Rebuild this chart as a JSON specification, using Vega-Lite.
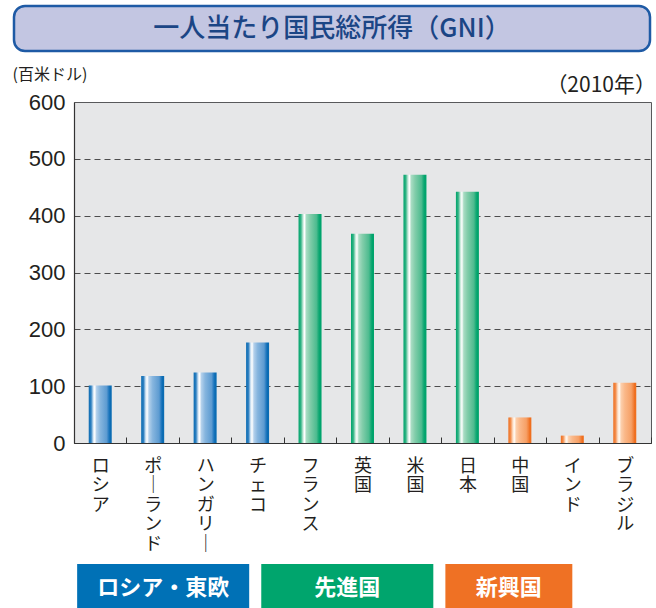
{
  "$schema": "https://vega.github.io/schema/vega-lite/v6.json",
  "padding": {"left": 11, "top": 4, "right": 0, "bottom": 0},
  "background": "white",
  "datasets": {
    "heading": [{"text": "一人当たり国民総所得（GNI）"}],
    "countries": [
      {"country": "ロシア", "gni": 101, "group": "ロシア・東欧"},
      {"country": "ポーランド", "gni": 118, "group": "ロシア・東欧"},
      {"country": "ハンガリー", "gni": 124, "group": "ロシア・東欧"},
      {"country": "チェコ", "gni": 177, "group": "ロシア・東欧"},
      {"country": "フランス", "gni": 403, "group": "先進国"},
      {"country": "英国", "gni": 368, "group": "先進国"},
      {"country": "米国", "gni": 472, "group": "先進国"},
      {"country": "日本", "gni": 442, "group": "先進国"},
      {"country": "中国", "gni": 45, "group": "新興国"},
      {"country": "インド", "gni": 13, "group": "新興国"},
      {"country": "ブラジル", "gni": 106, "group": "新興国"}
    ],
    "groups": [
      {"group": "ロシア・東欧", "first": "ロシア", "last": "チェコ"},
      {"group": "先進国", "first": "フランス", "last": "日本"},
      {"group": "新興国", "first": "中国", "last": "ブラジル"}
    ]
  },
  "spacing": 12,
  "vconcat": [
    {
      "width": 636,
      "height": 45,
      "view": {"fill": "#c3c6e2", "stroke": "#1e5aa5", "strokeWidth": 2.5, "cornerRadius": 11},
      "data": {"name": "heading"},
      "mark": {"type": "text", "font": "Noto Sans CJK JP", "fontSize": 26, "fontWeight": 500, "color": "#1b4585", "baseline": "middle", "align": "center"},
      "encoding": {"text": {"field": "text"}}
    },
    {
      "spacing": -4,
      "hconcat": [
        {
          "width": 1,
          "height": 1,
          "view": {"fill": "white", "stroke": null},
          "data": {"name": "heading"},
          "mark": {"type": "text", "opacity": 0},
          "encoding": {"text": {"value": ""}}
        },
        {
          "spacing": 10,
          "vconcat": [
            {
              "width": 577,
              "height": 341,
              "data": {"name": "countries"},
              "view": {"fill": "#e6e7e8", "stroke": "#58595b", "strokeWidth": 1},
              "title": {"text": "（2010年）", "anchor": "end", "frame": "group", "font": "Noto Sans CJK JP", "fontSize": 21, "fontWeight": "normal", "color": "#231f20", "offset": -30, "dx": 5},
              "encoding": {
                "x": {
                  "field": "country", "type": "nominal", "sort": null,
                  "scale": {"domain": ["ロシア", "ポーランド", "ハンガリー", "チェコ", "フランス", "英国", "米国", "日本", "中国", "インド", "ブラジル"], "paddingInner": 0, "paddingOuter": 0},
                  "axis": {
                    "title": null, "tickBand": "extent", "tickSize": -6, "tickColor": "#333333", "tickWidth": 1,
                    "domainColor": "#333333", "domainWidth": 1.2, "labelAngle": 0, "labelAlign": "center", "labelBaseline": "top",
                    "labelPadding": 20, "labelFont": "Noto Sans CJK JP", "labelFontSize": 18, "labelLineHeight": 19.5,
                    "labelColor": "#231f20", "labelExpr": "split(replace(datum.label, 'ー', '｜'), '')", "grid": false
                  }
                },
                "y": {
                  "field": "gni", "type": "quantitative",
                  "scale": {"domain": [0, 600], "nice": false},
                  "axis": {
                    "title": "(百米ドル)", "titleAngle": 0, "titleAlign": "left", "titleBaseline": "alphabetic",
                    "titleX": -62, "titleY": -23, "titleFont": "Noto Sans CJK JP", "titleFontSize": 16, "titleFontWeight": "normal", "titleColor": "#231f20",
                    "values": [0, 100, 200, 300, 400, 500, 600], "ticks": false, "labelPadding": 9,
                    "labelFont": "Liberation Sans", "labelFontSize": 22, "labelColor": "#231f20", "labelFlush": false,
                    "grid": true, "gridDash": [6, 4], "gridColor": "#4d4d4d", "gridWidth": 1,
                    "gridOpacity": {"condition": {"test": "datum.value === 0 || datum.value === 600", "value": 0}, "value": 1},
                    "domainColor": "#333333", "domainWidth": 1.2
                  }
                }
              },
              "layer": [
                {
                  "transform": [{"filter": "datum.group === 'ロシア・東欧'"}],
                  "mark": {"type": "bar", "size": 23, "fill": {"gradient": "linear", "x1": 0, "y1": 0, "x2": 1, "y2": 0, "stops": [
                    {"offset": 0, "color": "#0b6cb3"}, {"offset": 0.1, "color": "#2c7fc0"}, {"offset": 0.2, "color": "#d6e6f4"},
                    {"offset": 0.26, "color": "#ffffff"}, {"offset": 0.34, "color": "#b3d0eb"}, {"offset": 0.5, "color": "#86b5de"},
                    {"offset": 0.78, "color": "#5d9bd1"}, {"offset": 0.88, "color": "#1f77be"}, {"offset": 0.93, "color": "#0b6cb3"}, {"offset": 1, "color": "#0b6cb3"}]}}
                },
                {
                  "transform": [{"filter": "datum.group === '先進国'"}],
                  "mark": {"type": "bar", "size": 23, "fill": {"gradient": "linear", "x1": 0, "y1": 0, "x2": 1, "y2": 0, "stops": [
                    {"offset": 0, "color": "#00a46c"}, {"offset": 0.1, "color": "#2fb383"}, {"offset": 0.2, "color": "#cdebdd"},
                    {"offset": 0.26, "color": "#ffffff"}, {"offset": 0.34, "color": "#a8dcc3"}, {"offset": 0.5, "color": "#82cdaa"},
                    {"offset": 0.78, "color": "#4dbb8f"}, {"offset": 0.88, "color": "#13a974"}, {"offset": 0.93, "color": "#00a46c"}, {"offset": 1, "color": "#00a46c"}]}}
                },
                {
                  "transform": [{"filter": "datum.group === '新興国'"}],
                  "mark": {"type": "bar", "size": 23, "fill": {"gradient": "linear", "x1": 0, "y1": 0, "x2": 1, "y2": 0, "stops": [
                    {"offset": 0, "color": "#ef6f1f"}, {"offset": 0.1, "color": "#f38e4d"}, {"offset": 0.2, "color": "#fde2cc"},
                    {"offset": 0.26, "color": "#fffaf3"}, {"offset": 0.34, "color": "#fccfac"}, {"offset": 0.5, "color": "#fab889"},
                    {"offset": 0.78, "color": "#f6a066"}, {"offset": 0.88, "color": "#f2813a"}, {"offset": 0.93, "color": "#ef6f1f"}, {"offset": 1, "color": "#ef6f1f"}]}}
                }
              ]
            },
            {
              "width": 577,
              "height": 44,
              "data": {"name": "groups"},
              "view": {"stroke": null, "fill": null},
              "layer": [
                {
                  "transform": [{"filter": "datum.group === 'ロシア・東欧'"}],
                  "mark": {"type": "rect", "fill": "#0071b6"},
                  "encoding": {
                    "x": {"field": "first", "type": "nominal", "bandPosition": 0.06, "axis": null, "scale": {"domain": ["ロシア", "ポーランド", "ハンガリー", "チェコ", "フランス", "英国", "米国", "日本", "中国", "インド", "ブラジル"], "paddingInner": 0, "paddingOuter": 0}},
                    "x2": {"field": "last", "bandPosition": 0.34}
                  }
                },
                {
                  "transform": [{"filter": "datum.group === '先進国'"}],
                  "mark": {"type": "rect", "fill": "#00a56d"},
                  "encoding": {
                    "x": {"field": "first", "type": "nominal", "bandPosition": -0.43, "axis": null, "scale": {"domain": ["ロシア", "ポーランド", "ハンガリー", "チェコ", "フランス", "英国", "米国", "日本", "中国", "インド", "ブラジル"], "paddingInner": 0, "paddingOuter": 0}},
                    "x2": {"field": "last", "bandPosition": -0.15}
                  }
                },
                {
                  "transform": [{"filter": "datum.group === '新興国'"}],
                  "mark": {"type": "rect", "fill": "#ef7124"},
                  "encoding": {
                    "x": {"field": "first", "type": "nominal", "bandPosition": -0.92, "axis": null, "scale": {"domain": ["ロシア", "ポーランド", "ハンガリー", "チェコ", "フランス", "英国", "米国", "日本", "中国", "インド", "ブラジル"], "paddingInner": 0, "paddingOuter": 0}},
                    "x2": {"field": "last", "bandPosition": -0.5}
                  }
                },
                {
                  "transform": [{"filter": "datum.group === 'ロシア・東欧'"}],
                  "mark": {"type": "text", "font": "Noto Sans CJK JP", "fontSize": 22, "fontWeight": "bold", "color": "white", "align": "center", "baseline": "middle", "dy": 2},
                  "encoding": {
                    "x": {"field": "first", "type": "nominal", "bandPosition": 1.7, "axis": null, "scale": {"domain": ["ロシア", "ポーランド", "ハンガリー", "チェコ", "フランス", "英国", "米国", "日本", "中国", "インド", "ブラジル"], "paddingInner": 0, "paddingOuter": 0}},
                    "text": {"field": "group"}
                  }
                },
                {
                  "transform": [{"filter": "datum.group === '先進国'"}],
                  "mark": {"type": "text", "font": "Noto Sans CJK JP", "fontSize": 22, "fontWeight": "bold", "color": "white", "align": "center", "baseline": "middle", "dy": 2},
                  "encoding": {
                    "x": {"field": "first", "type": "nominal", "bandPosition": 1.21, "axis": null, "scale": {"domain": ["ロシア", "ポーランド", "ハンガリー", "チェコ", "フランス", "英国", "米国", "日本", "中国", "インド", "ブラジル"], "paddingInner": 0, "paddingOuter": 0}},
                    "text": {"field": "group"}
                  }
                },
                {
                  "transform": [{"filter": "datum.group === '新興国'"}],
                  "mark": {"type": "text", "font": "Noto Sans CJK JP", "fontSize": 22, "fontWeight": "bold", "color": "white", "align": "center", "baseline": "middle", "dy": 2},
                  "encoding": {
                    "x": {"field": "first", "type": "nominal", "bandPosition": 0.29, "axis": null, "scale": {"domain": ["ロシア", "ポーランド", "ハンガリー", "チェコ", "フランス", "英国", "米国", "日本", "中国", "インド", "ブラジル"], "paddingInner": 0, "paddingOuter": 0}},
                    "text": {"field": "group"}
                  }
                }
              ]
            }
          ]
        }
      ]
    }
  ]
}
